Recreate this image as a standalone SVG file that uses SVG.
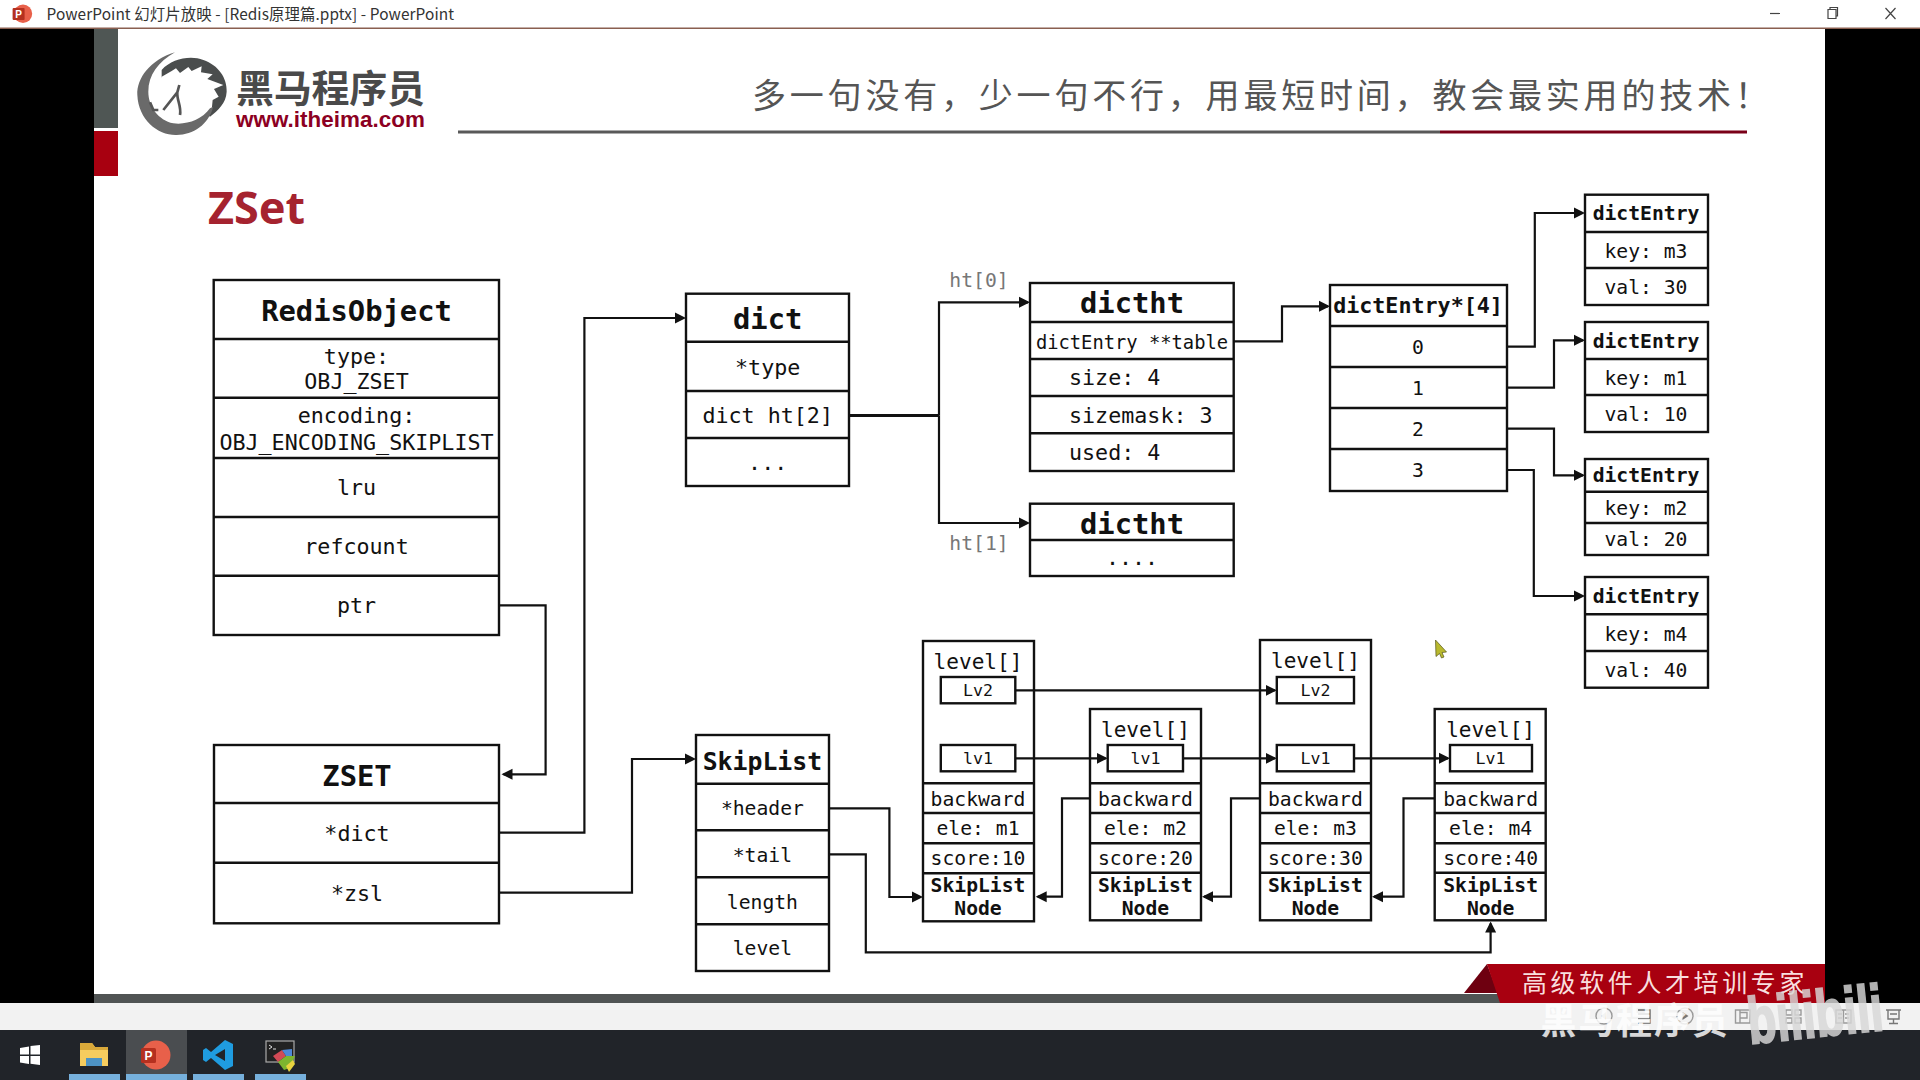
<svg xmlns="http://www.w3.org/2000/svg" width="1920" height="1080" viewBox="0 0 1920 1080">
<style>
text{font-family:"DejaVu Sans Mono","Liberation Mono",monospace;fill:#111;text-anchor:middle;dominant-baseline:central}
.cjk{font-family:"Noto Sans CJK SC","Noto Sans",sans-serif}
.b{font-weight:700}
.s{text-anchor:start}
.f28{font-size:28.8px}.f25{font-size:24.8px}.f21{font-size:21.7px}.f20{font-size:19.7px}.f19{font-size:18.8px}.f17{font-size:16.6px}.fl{font-size:21.1px}
.box{fill:#fff;stroke:#111;stroke-width:2.4}
.sep{stroke:#111;stroke-width:2.4;fill:none}
.con{fill:none;stroke:#111;stroke-width:2.2}
.thick{stroke-width:3.2}
.ico{fill:none;stroke:#9a9a9a;stroke-width:1.4}
</style>
<defs>
<marker id="a" markerUnits="userSpaceOnUse" markerWidth="13" markerHeight="13" refX="9" refY="6" orient="auto"><path d="M0,0.5 L11,6 L0,11.5 Z" fill="#111"/></marker>
</defs>

<g id="window-chrome">
<rect x="0" y="0" width="1920" height="1080" fill="#000"/>
<rect x="0" y="0" width="1920" height="28" fill="#fff"/>
<rect x="0" y="27.5" width="1920" height="1.5" fill="#8a5f50"/>
<circle cx="23" cy="13.7" r="9.2" fill="#e8604a"/>
<rect x="12.6" y="8" width="12" height="12" rx="1" fill="#b5301f"/>
<text class="b" x="18.6" y="14" style="font-family:'Liberation Sans',sans-serif;font-size:10px;fill:#fff">P</text>
<text class="cjk s" x="46.5" y="13.2" style="font-size:15.4px;fill:#333" textLength="407.5">PowerPoint 幻灯片放映 - [Redis原理篇.pptx] - PowerPoint</text>
<path d="M1770,13.5 H1780" stroke="#444" stroke-width="1.2" fill="none"/>
<path d="M1828,9.5 H1836 V18.5 H1828 Z M1830,9.5 V7.5 H1837.5 V16 H1836" stroke="#444" stroke-width="1.2" fill="none"/>
<path d="M1885.5,8 L1895.5,19 M1895.5,8 L1885.5,19" stroke="#444" stroke-width="1.2" fill="none"/>
</g>

<g id="slide-frame">
<rect x="94" y="29" width="1731" height="974" fill="#fff"/>
<rect x="94" y="29" width="24" height="99" fill="#4f5654"/>
<rect x="94" y="131" width="24" height="45" fill="#a80010"/>
<rect x="94" y="994" width="1731" height="9" fill="#505454"/>
<rect x="458" y="130.5" width="982" height="3" fill="#595959"/>
<rect x="1440" y="130.5" width="307" height="3" fill="#7a0018"/>
<text class="cjk s" x="752" y="93.5" style="font-size:34px;letter-spacing:3.8px;fill:#555">多一句没有，少一句不行，用最短时间，教会最实用的技术！</text>
</g>

<g id="logo">
<g transform="translate(130,45) scale(.3333)">
<path d="M95,75 C125,42 180,30 220,45 C265,60 292,100 290,140 C288,175 265,195 240,215 L225,200 L160,150 L95,110 Z" fill="#4a4d4d"/>
<path d="M62,170 L75,135 L95,95 L125,78 L138,70 L150,84 L175,66 L185,78 L215,64 L213,82 L248,88 L232,102 L280,120 L252,132 L266,155 L248,165 L245,195 L235,215 L200,235 L150,240 L100,220 L75,195 Z" fill="#fff"/>
<path d="M135,22 C60,45 20,100 22,150 C25,225 85,272 140,270 C190,268 235,240 250,185 L240,190 C215,225 170,240 130,235 C85,225 55,185 55,140 C55,90 85,50 135,22 Z" fill="#6a6a6a"/>
<path d="M148,120 L142,142 L100,195 M142,142 C140,165 155,185 150,210 M60,172 L70,195 L85,195" fill="none" stroke="#555" stroke-width="8"/>
</g>
<text class="cjk b s" x="236" y="85" style="font-size:38px;fill:#4a4a4a" textLength="189">黑马程序员</text>
<text class="b s" x="236" y="119" style="font-family:'Liberation Sans',sans-serif;font-size:22.4px;fill:#8c0022" textLength="189">www.itheima.com</text>
</g>
<text id="title" class="b s" x="208" y="206" style="font-family:'Noto Sans',sans-serif;font-size:45px;fill:#a5232f" textLength="97">ZSet</text>

<g id="RedisObject">
<rect class="box" x="213.7" y="280" width="285.3" height="355"/>
<path class="sep" d="M213.7,339 H499 M213.7,397.7 H499 M213.7,458 H499 M213.7,517 H499 M213.7,575.7 H499"/>
<text class="b f28" x="356.5" y="311">RedisObject</text>
<text class="f21" x="356.5" y="356">type:</text>
<text class="f21" x="356.5" y="381.5">OBJ_ZSET</text>
<text class="f21" x="356.5" y="415">encoding:</text>
<text class="f21" x="356.5" y="442">OBJ_ENCODING_SKIPLIST</text>
<text class="f21" x="356.5" y="487">lru</text>
<text class="f21" x="356.5" y="546.5">refcount</text>
<text class="f21" x="356.5" y="605">ptr</text>
</g>

<g id="dict">
<rect class="box" x="686" y="293.7" width="163" height="192.3"/>
<path class="sep" d="M686,341.7 H849 M686,391 H849 M686,438 H849"/>
<text class="b f28" x="767.7" y="319">dict</text>
<text class="f21" x="767.7" y="367">*type</text>
<text class="f21" x="767.7" y="415">dict ht[2]</text>
<text class="f21" x="767.7" y="462">...</text>
</g>

<text class="f20" x="979" y="280.5" style="fill:#777">ht[0]</text>
<text class="f20" x="979" y="543" style="fill:#777">ht[1]</text>

<g id="dictht-0">
<rect class="box" x="1030" y="283" width="203.7" height="188"/>
<path class="sep" d="M1030,322 H1233.7 M1030,359 H1233.7 M1030,396 H1233.7 M1030,433.3 H1233.7"/>
<text class="b f28" x="1132" y="302.5">dictht</text>
<text class="f19" x="1132" y="342">dictEntry **table</text>
<text class="f21 s" x="1069" y="377.5">size: 4</text>
<text class="f21 s" x="1069" y="415.5">sizemask: 3</text>
<text class="f21 s" x="1069" y="452.5">used: 4</text>
</g>

<g id="dictht-1">
<rect class="box" x="1030" y="503.7" width="203.7" height="72.3"/>
<path class="sep" d="M1030,540 H1233.7"/>
<text class="b f28" x="1132" y="523.5">dictht</text>
<text class="f21" x="1132" y="557.5">....</text>
</g>

<g id="dictEntry-array">
<rect class="box" x="1330" y="285" width="177" height="206"/>
<path class="sep" d="M1330,326 H1507 M1330,367 H1507 M1330,408 H1507 M1330,449 H1507"/>
<text class="b f21" x="1418" y="305.5">dictEntry*[4]</text>
<text class="f20" x="1418" y="347">0</text>
<text class="f20" x="1418" y="388.5">1</text>
<text class="f20" x="1418" y="429">2</text>
<text class="f20" x="1418" y="470">3</text>
</g>

<g id="dictEntry-m3">
<rect class="box" x="1585" y="194.7" width="123" height="110.3"/>
<path class="sep" d="M1585,232 H1708 M1585,268 H1708"/>
<text class="b f20" x="1646" y="213.5">dictEntry</text>
<text class="f20" x="1646" y="251">key: m3</text>
<text class="f20" x="1646" y="287">val: 30</text>
</g>
<g id="dictEntry-m1">
<rect class="box" x="1585" y="322" width="123" height="110"/>
<path class="sep" d="M1585,359 H1708 M1585,395 H1708"/>
<text class="b f20" x="1646" y="341">dictEntry</text>
<text class="f20" x="1646" y="378.5">key: m1</text>
<text class="f20" x="1646" y="414">val: 10</text>
</g>
<g id="dictEntry-m2">
<rect class="box" x="1585" y="459" width="123" height="96"/>
<path class="sep" d="M1585,491.7 H1708 M1585,523 H1708"/>
<text class="b f20" x="1646" y="475.5">dictEntry</text>
<text class="f20" x="1646" y="508">key: m2</text>
<text class="f20" x="1646" y="539.5">val: 20</text>
</g>
<g id="dictEntry-m4">
<rect class="box" x="1585" y="577" width="123" height="110.7"/>
<path class="sep" d="M1585,614.3 H1708 M1585,651 H1708"/>
<text class="b f20" x="1646" y="596.5">dictEntry</text>
<text class="f20" x="1646" y="634.5">key: m4</text>
<text class="f20" x="1646" y="670">val: 40</text>
</g>

<g id="ZSET">
<rect class="box" x="214" y="745" width="285" height="178.3"/>
<path class="sep" d="M214,803 H499 M214,862.7 H499"/>
<text class="b f28" x="357" y="775.5">ZSET</text>
<text class="f21" x="357" y="833.5">*dict</text>
<text class="f21" x="357" y="893">*zsl</text>
</g>

<g id="SkipList">
<rect class="box" x="696" y="735" width="133" height="236"/>
<path class="sep" d="M696,783.7 H829 M696,830.3 H829 M696,877.3 H829 M696,924.3 H829"/>
<text class="b f25" x="762.4" y="761">SkipList</text>
<text class="f20" x="762.4" y="808.5">*header</text>
<text class="f20" x="762.4" y="855">*tail</text>
<text class="f20" x="762.4" y="902.5">length</text>
<text class="f20" x="762.4" y="948.5">level</text>
</g>

<g id="SkipListNode-1" transform="translate(978,0)">
<rect class="box" x="-55" y="641" width="111" height="280.3"/>
<path class="sep" d="M-55,783.3 H56 M-55,813 H56 M-55,843.3 H56 M-55,873.3 H56"/>
<rect class="box" x="-37.2" y="677" width="74.5" height="26.3" style="fill:none"/>
<rect class="box" x="-37.2" y="745" width="74.5" height="26.3" style="fill:none"/>
<text class="fl" x="0" y="661.5">level[]</text>
<text class="f17" x="0" y="690.5">Lv2</text>
<text class="f17" x="0" y="758.5">lv1</text>
<text class="f20" x="0" y="799.5">backward</text>
<text class="f20" x="0" y="828.5">ele: m1</text>
<text class="f20" x="0" y="858.5">score:10</text>
<text class="b f20" x="0" y="885.5">SkipList</text>
<text class="b f20" x="0" y="908.5">Node</text>
</g>
<g id="SkipListNode-2" transform="translate(1145.4,0)">
<rect class="box" x="-55.4" y="709" width="111" height="211.3"/>
<path class="sep" d="M-55.4,783.3 H55.6 M-55.4,813 H55.6 M-55.4,843.3 H55.6 M-55.4,872.7 H55.6"/>
<rect class="box" x="-37.7" y="745" width="75.3" height="26.3" style="fill:none"/>
<text class="fl" x="0" y="729">level[]</text>
<text class="f17" x="0" y="758.5">lv1</text>
<text class="f20" x="0" y="799.5">backward</text>
<text class="f20" x="0" y="828.5">ele: m2</text>
<text class="f20" x="0" y="858.5">score:20</text>
<text class="b f20" x="0" y="885.5">SkipList</text>
<text class="b f20" x="0" y="908.5">Node</text>
</g>
<g id="SkipListNode-3" transform="translate(1315.4,0)">
<rect class="box" x="-55.4" y="640" width="111" height="280.3"/>
<path class="sep" d="M-55.4,783.3 H55.6 M-55.4,813 H55.6 M-55.4,843.3 H55.6 M-55.4,872.7 H55.6"/>
<rect class="box" x="-38.6" y="677" width="77.2" height="26.3" style="fill:none"/>
<rect class="box" x="-38.6" y="745" width="77.2" height="26.3" style="fill:none"/>
<text class="fl" x="0" y="660.5">level[]</text>
<text class="f17" x="0" y="690.5">Lv2</text>
<text class="f17" x="0" y="758.5">Lv1</text>
<text class="f20" x="0" y="799.5">backward</text>
<text class="f20" x="0" y="828.5">ele: m3</text>
<text class="f20" x="0" y="858.5">score:30</text>
<text class="b f20" x="0" y="885.5">SkipList</text>
<text class="b f20" x="0" y="908.5">Node</text>
</g>
<g id="SkipListNode-4" transform="translate(1490.6,0)">
<rect class="box" x="-55.9" y="709" width="111" height="211.3"/>
<path class="sep" d="M-55.9,783.3 H55.1 M-55.9,813 H55.1 M-55.9,843.3 H55.1 M-55.9,872.7 H55.1"/>
<rect class="box" x="-40.6" y="745" width="82" height="26.3" style="fill:none"/>
<text class="fl" x="0" y="729">level[]</text>
<text class="f17" x="0" y="758.5">Lv1</text>
<text class="f20" x="0" y="799.5">backward</text>
<text class="f20" x="0" y="828.5">ele: m4</text>
<text class="f20" x="0" y="858.5">score:40</text>
<text class="b f20" x="0" y="885.5">SkipList</text>
<text class="b f20" x="0" y="908.5">Node</text>
</g>

<g id="connectors">
<path class="con" d="M499,605.3 H545.6 V774.3 H503.5" marker-end="url(#a)"/>
<path class="con" d="M499,832.7 H584.4 V318 H684" marker-end="url(#a)"/>
<path class="con" d="M499,892.7 H632 V759 H694" marker-end="url(#a)"/>
<path class="con thick" d="M849,415.5 H939"/>
<path class="con" d="M939,415.5 V302.3 H1028" marker-end="url(#a)"/>
<path class="con" d="M939,415.5 V523 H1028" marker-end="url(#a)"/>
<path class="con" d="M1233.7,341.3 H1282 V306.3 H1328" marker-end="url(#a)"/>
<path class="con" d="M1507,346.7 H1534.8 V213 H1583" marker-end="url(#a)"/>
<path class="con" d="M1507,387.7 H1554 V340.3 H1583" marker-end="url(#a)"/>
<path class="con" d="M1507,428.7 H1554 V475.3 H1583" marker-end="url(#a)"/>
<path class="con" d="M1507,470 H1533.8 V596 H1583" marker-end="url(#a)"/>
<path class="con" d="M829,808.3 H889.4 V897 H921" marker-end="url(#a)"/>
<path class="con" d="M829,854.3 H865.8 V952.3 H1490.6 V923.5" marker-end="url(#a)"/>
<path class="con" d="M1015.3,690.3 H1274.8" marker-end="url(#a)"/>
<path class="con" d="M1015.3,758.3 H1105.7" marker-end="url(#a)"/>
<path class="con" d="M1183,758.3 H1274.8" marker-end="url(#a)"/>
<path class="con" d="M1354,758.3 H1448" marker-end="url(#a)"/>
<path class="con" d="M1090,798.3 H1062 V896.7 H1037.7" marker-end="url(#a)"/>
<path class="con" d="M1260,798.3 H1231 V896.7 H1204" marker-end="url(#a)"/>
<path class="con" d="M1434.7,798.3 H1403.5 V896.7 H1374" marker-end="url(#a)"/>
</g>

<path id="cursor" d="M1435.5,640 L1446.5,652 L1442,652.5 L1444,657 L1441.5,658 L1439.5,653.5 L1436,656.5 Z" fill="#b9b92e" stroke="#55551a" stroke-width=".7"/>

<g id="ribbon">
<path d="M1464,993 L1487,964 L1498,993 Z" fill="#6e0010"/>
<path d="M1487,964 H1825 V1003 H1500 Z" fill="#a80010"/>
<text class="cjk" x="1665" y="981" style="font-size:25px;letter-spacing:3.6px;fill:#f8dede">高级软件人才培训专家</text>
</g>

<g id="taskbar">
<rect x="0" y="1003" width="1920" height="27" fill="#f2f2f2"/>
<rect x="0" y="1030" width="1920" height="50" fill="#212429"/>
<rect x="126" y="1030" width="61" height="50" fill="#4a4d50"/>
<path d="M69,1077 H120 M126,1077 H187 M193,1077 H244 M255,1077 H306" stroke="#76b0dc" stroke-width="6" fill="none"/>
<path d="M20,1048 L29,1046.5 V1054.5 H20 Z M30.5,1046 L40,1045 V1054.5 H30.5 Z M20,1056 H29 V1064 L20,1062.5 Z M30.5,1056 H40 V1065 L30.5,1063.8 Z" fill="#fff"/>
<path d="M80,1043 H92 L95,1047 H108 V1066 H80 Z" fill="#f6cc5e"/>
<path d="M80,1043 H92 L95,1047 H108 V1050 H80 Z" fill="#d9a93a"/>
<path d="M86,1066 V1058 H102 V1066 M90,1066 V1062 H98 V1066" fill="#4d93c4"/>
<circle cx="156" cy="1055" r="14.5" fill="#e8604a"/>
<rect x="141" y="1048" width="15" height="15" rx="1.5" fill="#b5301f"/>
<text class="b" x="148.5" y="1055.5" style="font-family:'Liberation Sans',sans-serif;font-size:12px;fill:#fff">P</text>
<path d="M225,1040 L233,1044 V1066 L225,1070 L211,1058 L206,1062 L203,1060 V1050 L206,1048 L211,1052 Z M225,1049 L215,1055 L225,1061 Z" fill="#1f9ce0" fill-rule="evenodd"/>
<rect x="266" y="1041" width="28" height="21" fill="#222" stroke="#aaa" stroke-width="1.2"/>
<path d="M269,1045 L272,1047 L269,1049 M273,1049 H276" stroke="#ddd" fill="none"/>
<path d="M273,1056 L282,1050 L286,1056 L278,1062 Z" fill="#d24a55"/>
<path d="M282,1050 L292,1049 L292,1056 L286,1056 Z" fill="#4e88d6"/>
<path d="M278,1062 L286,1056 L295,1056 L290,1068 L284,1070 Z" fill="#7db52f"/>
<path d="M286,1066 L293,1060 L295,1064 L289,1072 Z" fill="#e8d33f"/>
</g>

<g id="view-icons">
<circle class="ico" cx="1604" cy="1016" r="8"/><path d="M1606,1012 L1601,1016 L1606,1020 Z" fill="#bdbdbd"/>
<path class="ico" d="M1638,1010 H1650 V1023 H1638 M1638,1014 H1650 M1638,1019 H1650" style="stroke:#666"/>
<circle class="ico" cx="1685" cy="1016" r="8"/><path d="M1682.5,1012 L1688.5,1016 L1682.5,1020 Z" fill="#777"/>
<path class="ico" d="M1735.5,1010 H1750 V1023 H1735.5 Z M1740,1010 V1023 M1740,1012.5 H1747 V1018 H1740"/>
<path class="ico" d="M1786,1010 H1792 V1015 H1786 Z M1795,1010 H1801 V1015 H1795 Z M1786,1018 H1792 V1023 H1786 Z M1795,1018 H1801 V1023 H1795 Z"/>
<path class="ico" d="M1836,1010 H1851 V1023 H1836 Z M1843.5,1010 V1023 M1838,1014 H1842 M1838,1018 H1842 M1845,1014 H1849 M1845,1018 H1849"/>
<path class="ico" d="M1886,1010 H1901 M1888,1010 V1019 H1899 V1010 M1893.5,1019 V1023 M1889,1023.5 H1898 M1890,1014 H1897" style="stroke:#777"/>
</g>

<g id="watermark">
<text class="cjk b" x="1635" y="1018" style="font-size:36px;letter-spacing:1.8px;fill:#fff;opacity:.82">黑马程序员</text>
<text class="b" x="1815" y="1014" transform="rotate(-6 1815 1014)" style="font-family:'Liberation Sans',sans-serif;font-size:66px;fill:#d8d8d8;stroke:#d8d8d8;stroke-width:2;opacity:.82" textLength="136" lengthAdjust="spacingAndGlyphs">bilibili</text>
</g>
</svg>
